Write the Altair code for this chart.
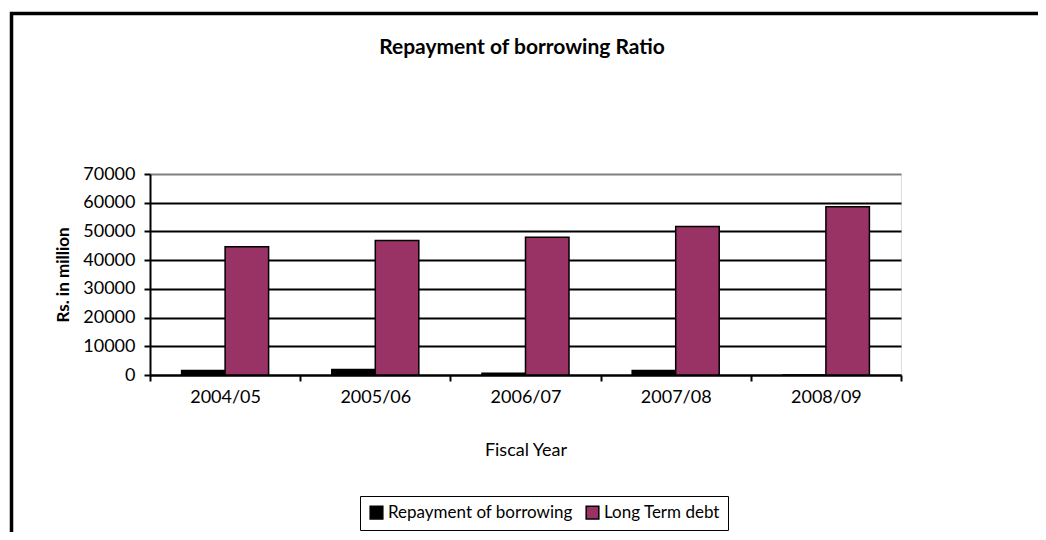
import altair as alt
import pandas as pd

years = ["2004/05", "2005/06", "2006/07", "2007/08", "2008/09"]
series = ["Repayment of borrowing", "Long Term debt"]
repayment = [1600, 1900, 600, 1600, 0]
long_term = [44700, 46800, 48000, 51700, 58600]
y_ticks = [0, 10000, 20000, 30000, 40000, 50000, 60000, 70000]
colors = ["#000000", "#993366"]
chart_title = "Repayment of borrowing Ratio"

rows = []
for i, yr in enumerate(years):
    rows.append({"year": yr, "series": series[0], "value": repayment[i]})
    rows.append({"year": yr, "series": series[1], "value": long_term[i]})
df = pd.DataFrame(rows)

W, H = 751, 201
FONT = "Lato"
FS = 18

bars = alt.Chart(df).mark_bar(stroke="black", strokeWidth=1.5).encode(
    x=alt.X(
        "year:N", sort=years,
        scale=alt.Scale(paddingInner=0, paddingOuter=0),
        axis=alt.Axis(
            title="Fiscal Year", labelAngle=0, tickBand="extent",
            domainColor="black", domainWidth=2, tickColor="black", tickWidth=2,
            tickSize=6, labelPadding=7, titlePadding=35,
            labelFontSize=FS, titleFontSize=FS, titleFontWeight="normal",
            labelFont=FONT, titleFont=FONT, labelColor="black", titleColor="black",
            grid=False,
        ),
    ),
    xOffset=alt.XOffset("series:N", sort=series,
                        scale=alt.Scale(paddingInner=0, paddingOuter=0.726)),
    y=alt.Y(
        "value:Q",
        scale=alt.Scale(domain=[0, 70000], nice=False),
        axis=alt.Axis(
            values=y_ticks, format="d", title="Rs. in million",
            domainColor="black", domainWidth=2, tickColor="black", tickWidth=2,
            tickSize=6, labelPadding=9, titlePadding=10,
            labelFontSize=FS, titleFontSize=17, titleFontWeight="bold",
            labelFont=FONT, titleFont=FONT, labelColor="black", titleColor="black",
            grid=True, gridWidth=2,
            gridColor={"condition": {"test": "datum.value === 70000", "value": "#808080"},
                       "value": "black"},
        ),
    ),
    color=alt.Color(
        "series:N", sort=series, title=None,
        scale=alt.Scale(domain=series, range=colors),
        legend=alt.Legend(
            orient="none", legendX=210, legendY=322, direction="horizontal",
            strokeColor="black", padding=8, symbolType="square", symbolSize=160,
            symbolStrokeColor="black", symbolStrokeWidth=1.5, symbolOpacity=1,
            labelFontSize=17, labelFont=FONT, labelColor="black", columnPadding=10,
            labelLimit=400, labelOffset=3, symbolOffset=0,
        ),
    ),
)

frame = alt.Chart(pd.DataFrame({"k": [0]})).mark_rect(
    fillOpacity=0, stroke="black", strokeWidth=3.5
).encode(
    x=alt.value(-138.5), x2=alt.value(W + 200),
    y=alt.value(-160.5), y2=alt.value(H + 250),
)

title = alt.Chart(pd.DataFrame({"t": [chart_title]})).mark_text(
    fontSize=21, fontWeight="bold", font=FONT, align="center", baseline="middle",
    color="black",
).encode(x=alt.value(372), y=alt.value(-126), text="t:N")

chart = alt.layer(frame, bars, title).properties(
    width=W, height=H,
    autosize=alt.AutoSizeParams(type="none"),
    padding={"left": 142, "top": 166, "right": 137, "bottom": 157},
).configure_view(
    fill="#C0C0C0", stroke="#808080", strokeWidth=2
).configure(background="white")

chart.save("out.html", embed_options={"renderer": "svg", "actions": False})
